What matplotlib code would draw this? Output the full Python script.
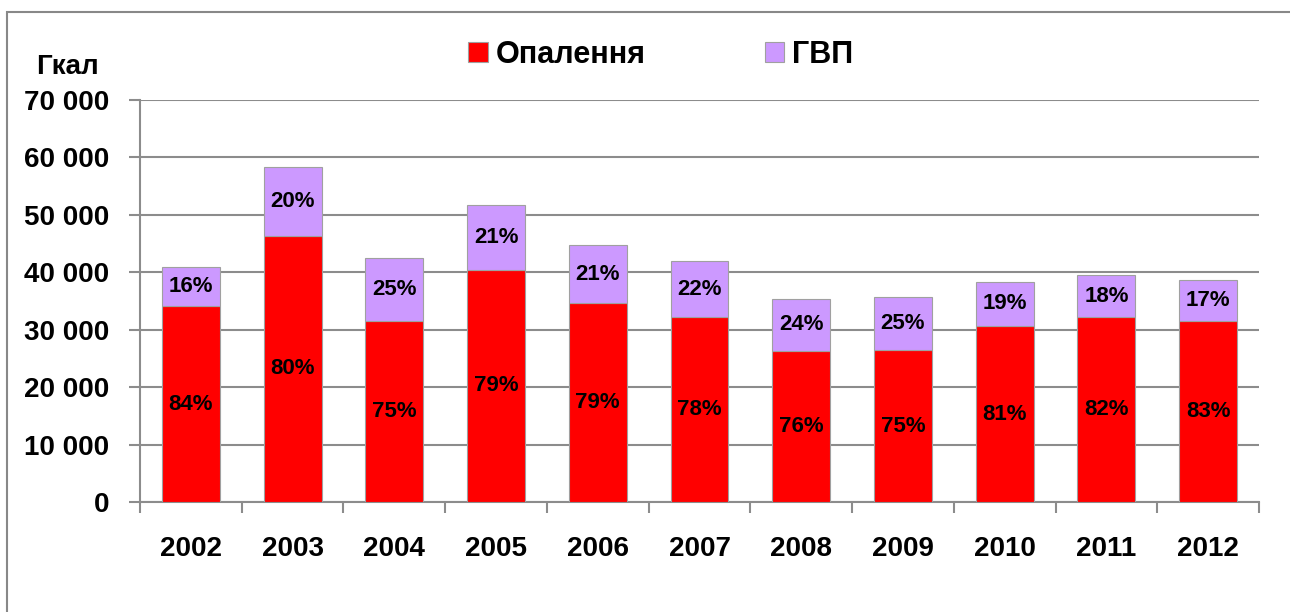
import matplotlib
matplotlib.use('Agg')
import matplotlib.pyplot as plt
from matplotlib.patches import Rectangle

# дані (Гкал)
years = ['2002', '2003', '2004', '2005', '2006', '2007', '2008', '2009', '2010', '2011', '2012']
heating = [34100, 46400, 31600, 40500, 34700, 32300, 26400, 26500, 30700, 32200, 31600]
hot_water = [6900, 12000, 10900, 11200, 10000, 9600, 9000, 9300, 7700, 7300, 7000]
heating_pct = ['84%', '80%', '75%', '79%', '79%', '78%', '76%', '75%', '81%', '82%', '83%']
hot_water_pct = ['16%', '20%', '25%', '21%', '21%', '22%', '24%', '25%', '19%', '18%', '17%']
yticks = [0, 10000, 20000, 30000, 40000, 50000, 60000, 70000]
ytick_labels = ['0', '10 000', '20 000', '30 000', '40 000', '50 000', '60 000', '70 000']

plt.rcParams['font.family'] = ['Liberation Sans', 'DejaVu Sans']
plt.rcParams['font.weight'] = 'bold'

W, H = 1290, 612
fig = plt.figure(figsize=(W / 100, H / 100), dpi=100)
ax = fig.add_axes([140 / W, 1 - 502.3 / H, (1259 - 140) / W, (502.3 - 100) / H])

grey = '#8c8c8c'
red = '#ff0000'
lilac = '#cc99ff'

x = range(len(years))
b1 = ax.bar(x, heating, width=0.57, color=red, edgecolor='#a0a0a0', linewidth=0.8,
            label='Опалення', zorder=3)
b2 = ax.bar(x, hot_water, width=0.57, bottom=heating, color=lilac, edgecolor='#a0a0a0',
            linewidth=0.8, label='ГВП', zorder=3)

# підписи відсотків
for i in x:
    ax.text(i, heating[i] / 2, heating_pct[i], ha='center', va='center',
            fontsize=16, fontweight='bold', zorder=4)
    ax.text(i, heating[i] + hot_water[i] / 2, hot_water_pct[i], ha='center', va='center',
            fontsize=16, fontweight='bold', zorder=4)

ax.set_xlim(-0.5, len(years) - 0.5)
ax.set_ylim(0, 70000)
ax.set_yticks(yticks)
ax.set_yticklabels(ytick_labels, fontsize=20, fontweight='bold')
ax.set_xticks([i + 0.5 for i in range(-1, len(years))], minor=False)
ax.set_xticklabels([])
ax.set_xticks(list(x), minor=True)
ax.set_xticklabels(years, minor=True, fontsize=20, fontweight='bold')
ax.tick_params(axis='x', which='minor', length=0, pad=24)
ax.tick_params(axis='x', which='major', length=8, color=grey, width=1.5, direction='out')
ax.tick_params(axis='y', length=8, color=grey, width=1.5, pad=14)

ax.yaxis.grid(True, color=grey, linewidth=1.5, zorder=0)
for s in ['top', 'right']:
    ax.spines[s].set_visible(False)
for s in ['left', 'bottom']:
    ax.spines[s].set_color(grey)
    ax.spines[s].set_linewidth(1.5)

fig.text(36 / W, 1 - 67 / H, 'Гкал', ha='left', va='center', fontsize=20, fontweight='bold')

fig.legend(handles=[b1, b2], loc='center', bbox_to_anchor=(0.512, 1 - 55 / H), ncol=2,
           frameon=False, handlelength=0.65, handleheight=0.65,
           handletextpad=0.25, columnspacing=3.9,
           prop={'weight': 'bold', 'size': 22})

# рамка діаграми
fig.patches.append(Rectangle((7 / W, -0.1), 1.2, 1 - 12 / H + 0.1, transform=fig.transFigure,
                             fill=False, edgecolor='#888888', linewidth=1.5, zorder=0))

fig.savefig('out.png', dpi=100)
